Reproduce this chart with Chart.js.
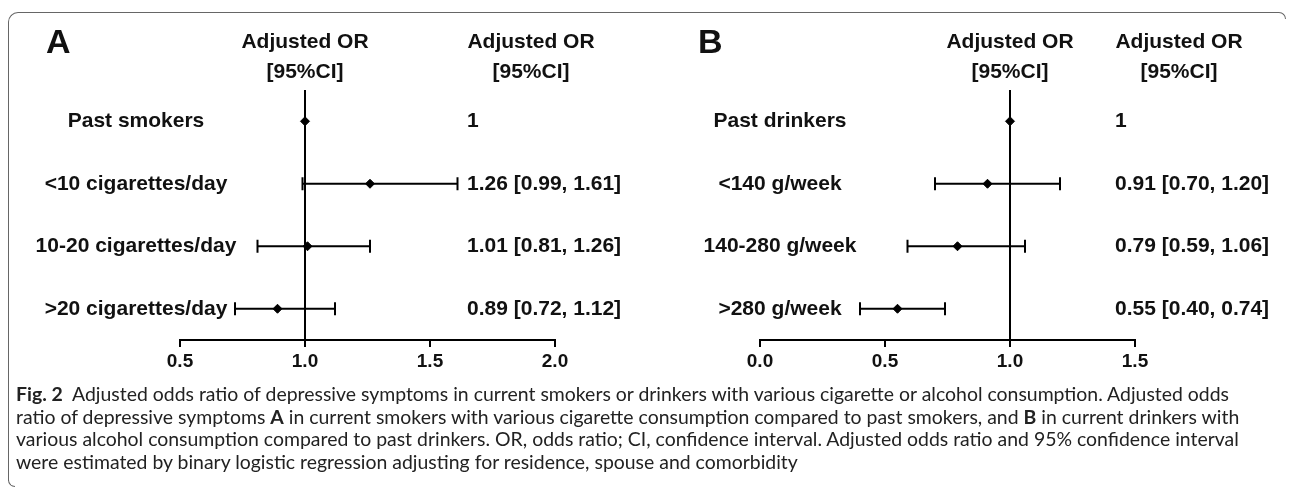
<!DOCTYPE html>
<html>
<head>
<meta charset="utf-8">
<script src="https://cdn.jsdelivr.net/npm/chart.js@4"></script>
<style>
  body { margin: 0; background: #fff; width: 1290px; height: 489px; overflow: hidden; position: relative; }
  canvas { position: absolute; top: 0; }
  #chartA { left: 0; }
  #chartB { left: 645px; }
  .frame { position: absolute; left: 8px; top: 12px; width: 1270px; height: 468px;
           border-top: 1.5px solid #666; border-left: 1.5px solid #666; border-top-left-radius: 10px; }
  .hookR { position: absolute; left: 1277px; top: 12px; width: 8px; height: 6px;
           border-top: 1.5px solid #666; border-right: 1.5px solid #666; border-top-right-radius: 8px; }
  .hookB { position: absolute; left: 8px; top: 479px; width: 6px; height: 7px;
           border-left: 1.5px solid #666; border-bottom: 1.5px solid #666; border-bottom-left-radius: 8px; }
  #caption { position: absolute; left: 16px; top: 383px; font-family: Lato, "Open Sans", sans-serif;
             color: #222; line-height: 22.5px; white-space: nowrap; }
</style>
</head>
<body>
<div class="frame"></div>
<div class="hookR"></div>
<div class="hookB"></div>
<canvas id="chartA" width="645" height="385"></canvas>
<canvas id="chartB" width="645" height="385"></canvas>
<div id="caption">
  <div><b>Fig. 2</b>&nbsp;&nbsp;Adjusted odds ratio of depressive symptoms in current smokers or drinkers with various cigarette or alcohol consumption. Adjusted odds</div>
  <div>ratio of depressive symptoms <b>A</b> in current smokers with various cigarette consumption compared to past smokers, and <b>B</b> in current drinkers with</div>
  <div id="capLine3">various alcohol consumption compared to past drinkers. OR, odds ratio; CI, confidence interval. Adjusted odds ratio and 95% confidence interval</div>
  <div>were estimated by binary logistic regression adjusting for residence, spouse and comorbidity</div>
</div>
<script>
// Panel A: smoking
const rowsA = ['Past smokers', '<10 cigarettes/day', '10-20 cigarettes/day', '>20 cigarettes/day'];
const orA = [1, 1.26, 1.01, 0.89];
const lowA = [1, 0.99, 0.81, 0.72];
const highA = [1, 1.61, 1.26, 1.12];
const textA = ['1', '1.26 [0.99, 1.61]', '1.01 [0.81, 1.26]', '0.89 [0.72, 1.12]'];
const ticksA = [0.5, 1.0, 1.5, 2.0];

// Panel B: drinking
const rowsB = ['Past drinkers', '<140 g/week', '140-280 g/week', '>280 g/week'];
const orB = [1, 0.91, 0.79, 0.55];
const lowB = [1, 0.70, 0.59, 0.40];
const highB = [1, 1.20, 1.06, 0.74];
const textB = ['1', '0.91 [0.70, 1.20]', '0.79 [0.59, 1.06]', '0.55 [0.40, 0.74]'];
const ticksB = [0.0, 0.5, 1.0, 1.5];

const header = ['Adjusted OR', '[95%CI]'];
const FONT = '"Liberation Sans", Arial, sans-serif';

// fit caption font so the third line has the width of the original
(function () {
  const c = document.createElement('canvas').getContext('2d');
  c.font = '20px Lato';
  const w = c.measureText(document.getElementById('capLine3').textContent).width;
  document.getElementById('caption').style.fontSize = (20 * 1224 / w).toFixed(2) + 'px';
})();

function makePanel(id, cfg) {
  const n = cfg.rows.length;
  const datasets = [];

  // reference line at OR = 1
  datasets.push({
    data: [{ x: 1, y: 0.5 }, { x: 1, y: n + 0.5 }],
    showLine: true, borderColor: '#000', borderWidth: 2, pointRadius: 0
  });

  // confidence intervals with caps
  cfg.rows.forEach((r, i) => {
    if (cfg.low[i] === cfg.high[i]) return;
    datasets.push({
      data: [{ x: cfg.low[i], y: i + 1 }, { x: cfg.high[i], y: i + 1 }],
      showLine: true, borderColor: '#000', borderWidth: 2,
      pointStyle: 'line', pointRotation: 90, pointRadius: 6.5,
      pointBorderColor: '#000', pointBorderWidth: 2
    });
  });

  // point estimates
  datasets.push({
    data: cfg.or.map((v, i) => ({ x: v, y: i + 1 })),
    pointStyle: 'rectRot', pointRadius: 4.5,
    pointBackgroundColor: '#000', pointBorderColor: '#000', pointBorderWidth: 1
  });

  const labelsPlugin = {
    id: 'labels',
    afterDraw(chart) {
      const ctx = chart.ctx;
      const xs = chart.scales.x, ys = chart.scales.y;
      ctx.save();
      ctx.fillStyle = '#111';
      ctx.textBaseline = 'middle';

      ctx.font = 'bold 34px ' + FONT;
      ctx.textAlign = 'left';
      ctx.fillText(cfg.title, cfg.titleX, 44);

      ctx.font = 'bold 21px ' + FONT;
      ctx.textAlign = 'center';
      const refX = xs.getPixelForValue(1);
      ctx.fillText(header[0], refX, 42);
      ctx.fillText(header[1], refX, 72);
      ctx.fillText(header[0], cfg.valueX + 64, 42);
      ctx.fillText(header[1], cfg.valueX + 64, 72);

      ctx.font = 'bold 21px ' + FONT;
      cfg.rows.forEach((r, i) => {
        const y = ys.getPixelForValue(i + 1);
        ctx.textAlign = 'center';
        ctx.fillText(r, cfg.labelX, y);
        ctx.textAlign = 'left';
        ctx.fillText(cfg.text[i], cfg.valueX, y);
      });
      ctx.restore();
    }
  };

  return new Chart(document.getElementById(id), {
    type: 'scatter',
    data: { datasets },
    plugins: [labelsPlugin],
    options: {
      responsive: false,
      animation: false,
      layout: { padding: { left: cfg.padLeft, right: cfg.padRight, top: 90, bottom: 15 } },
      plugins: { legend: { display: false }, tooltip: { enabled: false } },
      scales: {
        x: {
          type: 'linear',
          min: cfg.ticks[0], max: cfg.ticks[cfg.ticks.length - 1],
          afterBuildTicks: (scale) => { scale.ticks = cfg.ticks.map(v => ({ value: v })); },
          afterFit: (scale) => { scale.height = 30; },
          ticks: {
            callback: (v) => Number(v).toFixed(1),
            color: '#111', padding: 3,
            font: { family: FONT, size: 19, weight: 'bold' }
          },
          grid: { drawOnChartArea: false, drawTicks: true, tickLength: 7, color: '#000', lineWidth: 2 },
          border: { display: true, color: '#000', width: 2 }
        },
        y: {
          type: 'linear', display: false, reverse: true,
          min: 0.5, max: n + 0.5
        }
      }
    }
  });
}

makePanel('chartA', {
  title: 'A', titleX: 46, rows: rowsA, or: orA, low: lowA, high: highA, text: textA,
  ticks: ticksA, padLeft: 180, padRight: 90, labelX: 136, valueX: 467
});

makePanel('chartB', {
  title: 'B', titleX: 53, rows: rowsB, or: orB, low: lowB, high: highB, text: textB,
  ticks: ticksB, padLeft: 115, padRight: 155, labelX: 135, valueX: 470
});
</script>
</body>
</html>
